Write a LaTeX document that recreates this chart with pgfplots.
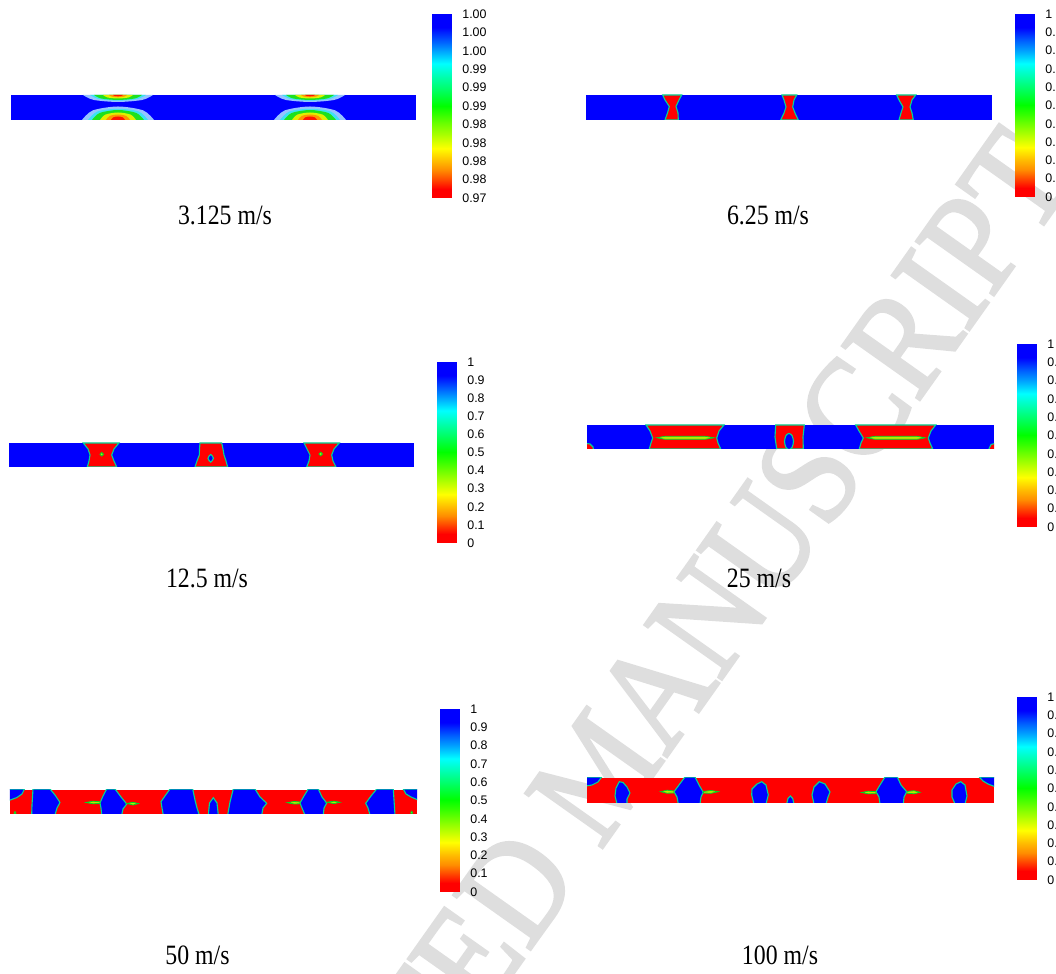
\documentclass[border=0pt]{standalone}
\usepackage{pgfplots}
\pgfplotsset{compat=1.18}
\usepackage{fontspec}
\setmainfont{Liberation Serif}
\newfontfamily\labfont{Liberation Sans}
\newfontfamily\wmfont[FakeBold=2]{Liberation Serif}
\definecolor{fblue}{RGB}{0,0,255}
\definecolor{fred}{RGB}{255,0,0}
\definecolor{fedge}{RGB}{0,215,150}
\definecolor{fstreak}{RGB}{185,235,0}
\definecolor{fstedge}{RGB}{0,215,40}
\definecolor{wm}{RGB}{222,222,222}
\definecolor{haze}{RGB}{150,195,255}
\definecolor{hcyan}{RGB}{60,225,245}
\definecolor{hgreen}{RGB}{30,225,30}
\definecolor{hyellow}{RGB}{225,240,0}
\definecolor{horange}{RGB}{255,150,0}
\definecolor{hred}{RGB}{255,20,0}
\pgfplotsset{
  colormap={fem}{rgb255(0cm)=(255,0,0); rgb255(1cm)=(255,0,0); rgb255(3cm)=(255,140,0); rgb255(5.4cm)=(255,255,0); rgb255(10cm)=(0,255,0); rgb255(14.6cm)=(0,255,255); rgb255(18.5cm)=(0,0,255); rgb255(20cm)=(0,0,255)},
  cbar/.style={anchor=south west, width=9.5pt, scale only axis, xmin=0, xmax=1, ymin=0, ymax=1,
    axis line style={draw=none}, xtick=\empty, ytick={0,0.1,0.2,0.3,0.4,0.5,0.6,0.7,0.8,0.9,1},
    yticklabel pos=right, major tick length=0pt, tick style={draw=none},
    yticklabel style={font=\labfont\fontsize{6.2pt}{7pt}\selectfont, anchor=west, xshift=4.5pt, inner sep=1pt},
    colormap name=fem, point meta min=0, point meta max=1, enlargelimits=false},
  bar/.style={anchor=south west, scale only axis, hide axis, y dir=reverse, clip=true, enlargelimits=false},
  bl/.style={fill=fblue, draw=fedge, line width=0.55pt},
  rd/.style={fill=fred, draw=fedge, line width=0.55pt},
  st/.style={fill=fstreak, draw=fstedge, line width=0.4pt},
}
\newcommand{\cbdata}{\addplot[surf, shader=interp, point meta=y] coordinates {
(0,0) (1,0)

(0,0.05) (1,0.05)

(0,0.1) (1,0.1)

(0,0.15) (1,0.15)

(0,0.2) (1,0.2)

(0,0.25) (1,0.25)

(0,0.3) (1,0.3)

(0,0.35) (1,0.35)

(0,0.4) (1,0.4)

(0,0.45) (1,0.45)

(0,0.5) (1,0.5)

(0,0.55) (1,0.55)

(0,0.6) (1,0.6)

(0,0.65) (1,0.65)

(0,0.7) (1,0.7)

(0,0.75) (1,0.75)

(0,0.8) (1,0.8)

(0,0.85) (1,0.85)

(0,0.9) (1,0.9)

(0,0.95) (1,0.95)

(0,1) (1,1)
};}
\newcommand{\ttl}[1]{\scalebox{0.85}[1]{\fontsize{14pt}{16pt}\selectfont #1}}
\begin{document}
\begin{tikzpicture}
% watermark
\node[rotate=54.7, text=wm, anchor=center, inner sep=0pt] at (300pt,102pt) {\scalebox{0.89}[1]{\wmfont\fontsize{72pt}{72pt}\selectfont ACCEPTED MANUSCRIPT}};

% ---------- Panel 1: 3.125 m/s
\begin{axis}[bar, at={(5.5pt,427pt)}, width=202.5pt, height=12.5pt, xmin=11, xmax=416, ymin=95, ymax=120]
\addplot[fill=fblue, draw=none] coordinates {(11,95) (416,95) (416,120) (11,120)} -- cycle;
% top spots
\addplot[fill=haze, draw=none, smooth] coordinates {(83,95) (93.5,99.9) (118,102) (142.5,99.9) (153,95)};
\addplot[fill=hcyan, draw=none, smooth] coordinates {(90,95) (98.7,99.0) (118,100.7) (137.3,99.0) (146,95)};
\addplot[fill=hgreen, draw=none, smooth] coordinates {(94,95) (101.2,98.5) (118,100) (134.8,98.5) (142,95)};
\addplot[fill=hyellow, draw=none, smooth] coordinates {(103,95) (107.5,97.5) (118,98.5) (128.5,97.5) (133,95)};
\addplot[fill=horange, draw=none, smooth] coordinates {(109,95) (111.7,96.6) (118,97.3) (124.3,96.6) (127,95)};
\addplot[fill=hred, draw=none, smooth] coordinates {(113,95) (114.5,95.9) (118,96.3) (121.5,95.9) (123,95)};
\addplot[fill=haze, draw=none, smooth] coordinates {(275,95) (285.5,99.9) (310,102) (334.5,99.9) (345,95)};
\addplot[fill=hcyan, draw=none, smooth] coordinates {(282,95) (290.7,99.0) (310,100.7) (329.3,99.0) (338,95)};
\addplot[fill=hgreen, draw=none, smooth] coordinates {(286,95) (293.2,98.5) (310,100) (326.8,98.5) (334,95)};
\addplot[fill=hyellow, draw=none, smooth] coordinates {(295,95) (299.5,97.5) (310,98.5) (320.5,97.5) (325,95)};
\addplot[fill=horange, draw=none, smooth] coordinates {(301,95) (303.7,96.6) (310,97.3) (316.3,96.6) (319,95)};
\addplot[fill=hred, draw=none, smooth] coordinates {(305,95) (306.5,95.9) (310,96.3) (313.5,95.9) (315,95)};
% bottom spots
\addplot[fill=haze, draw=none, smooth] coordinates {(82,120) (92.8,110.4) (118,106.5) (143.2,110.4) (154,120)};
\addplot[fill=hcyan, draw=none, smooth] coordinates {(88,120) (97.3,111.5) (118,108.8) (138.7,111.5) (148,120)};
\addplot[fill=hgreen, draw=none, smooth] coordinates {(92,120) (99.8,112.9) (118,110) (136.2,112.9) (144,120)};
\addplot[fill=hyellow, draw=none, smooth] coordinates {(100,120) (105.4,114.6) (118,112.5) (130.6,114.6) (136,120)};
\addplot[fill=horange, draw=none, smooth] coordinates {(106,120) (109.6,116) (118,114.5) (126.4,116) (130,120)};
\addplot[fill=hred, draw=none, smooth] coordinates {(111,120) (113.1,117.4) (118,116.5) (122.9,117.4) (125,120)};
\addplot[fill=haze, draw=none, smooth] coordinates {(274,120) (284.8,110.4) (310,106.5) (335.2,110.4) (346,120)};
\addplot[fill=hcyan, draw=none, smooth] coordinates {(280,120) (289.3,111.5) (310,108.8) (330.7,111.5) (340,120)};
\addplot[fill=hgreen, draw=none, smooth] coordinates {(284,120) (291.8,112.9) (310,110) (328.2,112.9) (336,120)};
\addplot[fill=hyellow, draw=none, smooth] coordinates {(292,120) (297.4,114.6) (310,112.5) (322.6,114.6) (328,120)};
\addplot[fill=horange, draw=none, smooth] coordinates {(298,120) (301.6,116) (310,114.5) (318.4,116) (322,120)};
\addplot[fill=hred, draw=none, smooth] coordinates {(303,120) (305.1,117.4) (310,116.5) (314.9,117.4) (317,120)};
\end{axis}
\begin{axis}[cbar, at={(216pt,388pt)}, height=92pt,
  yticklabels={0.97,0.98,0.98,0.98,0.98,0.99,0.99,0.99,1.00,1.00,1.00}]
\cbdata
\end{axis}
\node[anchor=base] at (112.5pt,374.5pt) {\ttl{3.125 m/s}};

% ---------- Panel 2: 6.25 m/s
\begin{axis}[bar, at={(293pt,427pt)}, width=203pt, height=12.5pt, xmin=586, xmax=992, ymin=95, ymax=120]
\addplot[fill=fblue, draw=none] coordinates {(586,95) (992,95) (992,120) (586,120)} -- cycle;
\addplot[rd] coordinates {(662.7,95) (681.7,95) (679,100) (676,106.5) (678,113) (678.3,120) (665,120) (667.5,113) (669.3,106.5) (665,100)} -- cycle;
\addplot[rd] coordinates {(782,95) (796.7,95) (794,100) (792.7,107) (795,113) (798.3,120) (780.7,120) (784,113) (786,107) (784,100)} -- cycle;
\addplot[rd] coordinates {(896.7,95) (915.7,95) (912,100) (910,107) (912,113) (913.3,120) (899,120) (901,113) (903,107) (899,100)} -- cycle;
\end{axis}
\begin{axis}[cbar, at={(507.5pt,388.5pt)}, height=91.5pt,
  yticklabels={0,0.1,0.2,0.3,0.4,0.5,0.6,0.7,0.8,0.9,1}]
\cbdata
\end{axis}
\node[anchor=base] at (384pt,374.5pt) {\ttl{6.25 m/s}};

% ---------- Panel 3: 12.5 m/s
\begin{axis}[bar, at={(4.5pt,253.5pt)}, width=202.5pt, height=12pt, xmin=9, xmax=414, ymin=443, ymax=467]
\addplot[fill=fblue, draw=none] coordinates {(9,443) (414,443) (414,467) (9,467)} -- cycle;
\addplot[rd] coordinates {(83.3,443) (119,443) (114,449) (111.7,455) (114,461) (116.7,467) (87.3,467) (89,461) (90,455) (88,449)} -- cycle;
\addplot[st, smooth cycle] coordinates {(99.9,454.3) (101.7,452.5) (103.5,454.3) (101.7,456.1)};
\addplot[rd] coordinates {(200,443) (221.7,443) (223,449) (224,455) (226,461) (227.7,467) (195,467) (197,461) (199.3,455) (199.5,449)} -- cycle;
\addplot[bl, smooth cycle] coordinates {(208,458.3) (210.7,454.5) (213.4,458.3) (210.7,462.1)};
\addplot[rd] coordinates {(304,443) (339.3,443) (334,449) (331.7,455) (333,461) (336,467) (306.7,467) (309,461) (310,455) (307,449)} -- cycle;
\addplot[st, smooth cycle] coordinates {(318.9,454) (320.7,452.2) (322.5,454) (320.7,455.8)};
\end{axis}
\begin{axis}[cbar, at={(218.5pt,215.5pt)}, height=90.5pt,
  yticklabels={0,0.1,0.2,0.3,0.4,0.5,0.6,0.7,0.8,0.9,1}]
\cbdata
\end{axis}
\node[anchor=base] at (103.5pt,193pt) {\ttl{12.5 m/s}};

% ---------- Panel 4: 25 m/s
\begin{axis}[bar, at={(293.5pt,262.5pt)}, width=203.5pt, height=12pt, xmin=587, xmax=994, ymin=425, ymax=449]
\addplot[fill=fblue, draw=none] coordinates {(587,425) (994,425) (994,449) (587,449)} -- cycle;
\addplot[rd] coordinates {(646,425) (724,425) (719,431) (716.7,438) (718,443) (720.7,449) (649.3,449) (651,443) (652.7,438) (650,431)} -- cycle;
\addplot[st] coordinates {(656.7,437.8) (665,436.3) (705,436.3) (714,437.8) (705,439.3) (665,439.3)} -- cycle;
\addplot[rd] coordinates {(775.7,425) (804.3,425) (803,437) (803.3,449) (776.7,449) (775,437)} -- cycle;
\addplot[bl, smooth cycle] coordinates {(784.5,441.5) (786,435.5) (789,433.5) (792,435.5) (793.5,441.5) (792,447.5) (789,449.5) (786,447.5)};
\addplot[rd] coordinates {(855.7,425) (935.7,425) (931,431) (928.3,438) (930,443) (932.7,449) (859.3,449) (861,443) (863.3,438) (859,431)} -- cycle;
\addplot[st] coordinates {(866.7,437.8) (875,436.3) (917,436.3) (925,437.8) (917,439.3) (875,439.3)} -- cycle;
\addplot[rd] coordinates {(586,443.5) (590,444) (593,447) (593.5,450) (586,450)} -- cycle;
\addplot[rd] coordinates {(995,443.5) (991,444.5) (988.5,450) (995,450)} -- cycle;
\end{axis}
\begin{axis}[cbar, at={(508.5pt,223.5pt)}, height=91.5pt,
  yticklabels={0,0.1,0.2,0.3,0.4,0.5,0.6,0.7,0.8,0.9,1}]
\cbdata
\end{axis}
\node[anchor=base] at (379.5pt,193pt) {\ttl{25 m/s}};

% ---------- Panel 5: 50 m/s
\begin{axis}[bar, at={(5pt,80pt)}, width=203.5pt, height=12pt, xmin=10, xmax=417, ymin=790, ymax=814]
\addplot[fill=fred, draw=none] coordinates {(10,790) (417,790) (417,814) (10,814)} -- cycle;
\addplot[bl] coordinates {(9,789) (24.5,789) (22,794) (17,797.5) (9,800.5)} -- cycle;
\addplot[bl] coordinates {(33,789) (50,789) (55,795) (60,802.5) (57,808) (55,815) (31.7,815) (32,805) (32.5,797)} -- cycle;
\addplot[bl] coordinates {(106.7,789) (115,789) (121,797) (126.7,804) (123,809) (121.7,815) (101.7,815) (101,808) (100,803) (103,796)} -- cycle;
\addplot[st] coordinates {(86,802.5) (93,801.2) (100,801.8) (100,803.4) (93,803.8)} -- cycle;
\addplot[st] coordinates {(127,803.5) (133,802.3) (138.3,803.6) (133,805)} -- cycle;
\addplot[bl] coordinates {(170,789) (192.7,789) (195,800) (197,808) (199.3,815) (163.3,815) (162,808) (161,801.7) (165,796)} -- cycle;
\addplot[bl] coordinates {(208.3,815) (209.5,803) (213.3,797.7) (217,803) (218.3,815)} -- cycle;
\addplot[bl] coordinates {(233.3,789) (255,789) (260,797) (266.7,803.3) (263,808) (261.7,815) (227.7,815) (230,802)} -- cycle;
\addplot[bl] coordinates {(308.3,789) (318.3,789) (322,797) (326.7,803) (324,808) (323.3,815) (305,815) (302,808) (300,803) (304,796)} -- cycle;
\addplot[st] coordinates {(287.3,802.7) (294,801.5) (300,802) (300,803.8) (294,804)} -- cycle;
\addplot[st] coordinates {(327,802.3) (334,801.2) (340,802.3) (334,803.6)} -- cycle;
\addplot[bl] coordinates {(376.7,789) (393.3,789) (394,800) (395,815) (370,815) (368,808) (365.7,803.3) (371,796)} -- cycle;
\addplot[bl] coordinates {(403.3,789) (418,789) (418,800) (411,797) (406,794)} -- cycle;
\addplot[st, smooth cycle] coordinates {(14,813) (15,811.5) (16,813) (15,814.5)};
\addplot[st, smooth cycle] coordinates {(410.7,812.7) (411.7,811.2) (412.7,812.7) (411.7,814.2)};
\end{axis}
\begin{axis}[cbar, at={(220pt,41pt)}, height=91.5pt,
  yticklabels={0,0.1,0.2,0.3,0.4,0.5,0.6,0.7,0.8,0.9,1}]
\cbdata
\end{axis}
\node[anchor=base] at (98.75pt,4.5pt) {\ttl{50 m/s}};

% ---------- Panel 6: 100 m/s
\begin{axis}[bar, at={(293.5pt,85.5pt)}, width=203.5pt, height=12.5pt, xmin=587, xmax=994, ymin=778, ymax=803]
\addplot[fill=fred, draw=none] coordinates {(587,778) (994,778) (994,803) (587,803)} -- cycle;
\addplot[bl] coordinates {(586,777) (601.7,777) (598,782) (592,785) (586,786)} -- cycle;
\addplot[bl] coordinates {(615,796) (616,788) (619.3,781.7) (623,782.5) (627,787) (630,793) (627,799) (627,804) (617,804)} -- cycle;
\addplot[bl] coordinates {(685,777) (695,777) (699,785) (703.3,792.3) (701,797) (700,804) (678.3,804) (677,797) (674,791.7) (679,785)} -- cycle;
\addplot[st] coordinates {(660.7,791.7) (667,790.2) (674,791) (674,793) (667,793.2)} -- cycle;
\addplot[st] coordinates {(703.5,791.5) (711,790.5) (718.3,791.7) (711,793.3) (703.5,793)} -- cycle;
\addplot[bl] coordinates {(751.7,795) (752,789) (757,784) (761.7,781.7) (766,785) (768.3,795) (766,804) (754,804)} -- cycle;
\addplot[bl] coordinates {(786.7,804) (788,798.5) (790.3,796) (792.7,798.5) (794,804)} -- cycle;
\addplot[bl] coordinates {(812,795) (814,787) (819.3,781.7) (825,784) (830,792) (828,797) (826,804) (814,804)} -- cycle;
\addplot[bl] coordinates {(885,777) (897.3,777) (901,785) (906.7,791.7) (904,797) (903.3,804) (880,804) (879,797) (876,791.7) (880,785)} -- cycle;
\addplot[st] coordinates {(861.7,792.5) (868,791.2) (876,791.7) (876,793.7) (868,793.8)} -- cycle;
\addplot[st] coordinates {(907,791.5) (914,790.7) (920,792.3) (914,793.8) (907,793.2)} -- cycle;
\addplot[bl] coordinates {(952,797) (952,790) (956,784) (960.7,781.7) (965,785) (967,796) (965,804) (955,804)} -- cycle;
\addplot[bl] coordinates {(979.3,777) (995,777) (995,786.7) (988,784) (983,781)} -- cycle;
\end{axis}
\begin{axis}[cbar, at={(508.5pt,47pt)}, height=91.5pt,
  yticklabels={0,0.1,0.2,0.3,0.4,0.5,0.6,0.7,0.8,0.9,1}]
\cbdata
\end{axis}
\node[anchor=base] at (390pt,4.5pt) {\ttl{100 m/s}};

\pgfresetboundingbox
\path[use as bounding box] (0,0) rectangle (528pt,487pt);
\end{tikzpicture}
\end{document}
